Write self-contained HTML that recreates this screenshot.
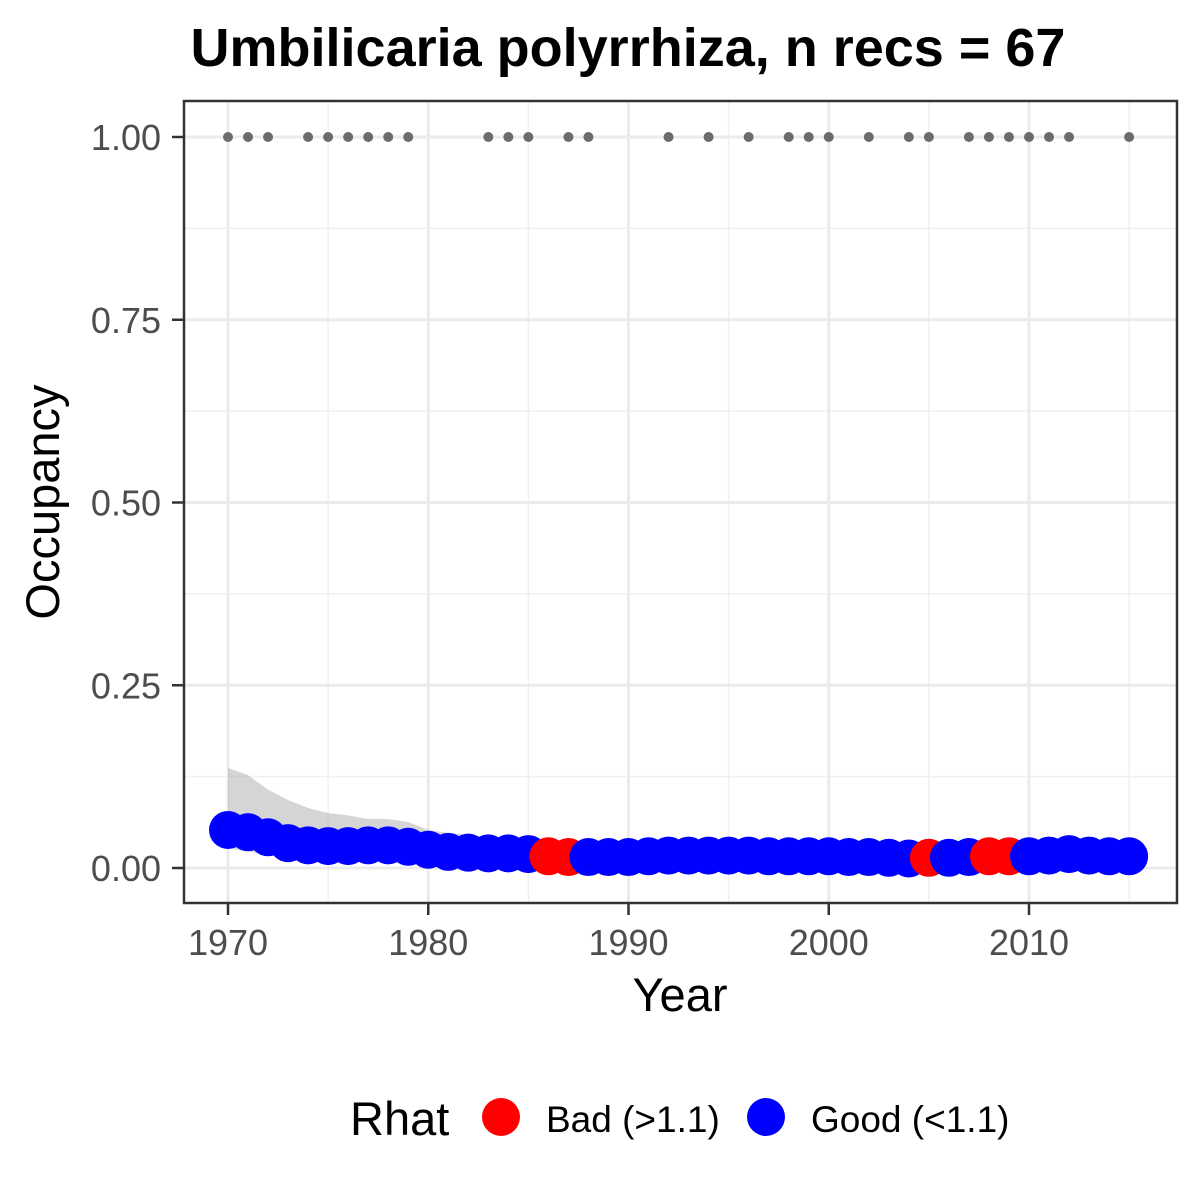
<!DOCTYPE html>
<html><head><meta charset="utf-8"><style>
html,body{margin:0;padding:0;background:#fff;}
svg{display:block;font-family:"Liberation Sans",Arial,sans-serif;}
</style></head><body>
<svg id="chart" width="1200" height="1200" viewBox="0 0 1200 1200">
<rect x="0" y="0" width="1200" height="1200" fill="#fff"/>
<text x="628" y="66" text-anchor="middle" font-size="54" font-weight="bold" fill="#000">Umbilicaria polyrrhiza, n recs = 67</text>
<g id="grid"></g>
<g id="marks"></g>
<rect x="184" y="101" width="993" height="802" fill="none" stroke="#333" stroke-width="2.5"/>
<g id="axes"></g>
<text x="680" y="1011" text-anchor="middle" font-size="47" fill="#000">Year</text>
<text transform="translate(59,502) rotate(-90)" text-anchor="middle" font-size="47" fill="#000">Occupancy</text>
<g>
<text x="350" y="1135" font-size="47" fill="#000">Rhat</text>
<circle cx="501" cy="1117" r="19" fill="#ff0000"/>
<text x="546" y="1132" font-size="37" fill="#000">Bad (&gt;1.1)</text>
<circle cx="766" cy="1117" r="19" fill="#0000ff"/>
<text x="811" y="1132" font-size="37" fill="#000">Good (&lt;1.1)</text>
</g>
</svg>
<script>
const years = [1970,1971,1972,1973,1974,1975,1976,1977,1978,1979,1980,1981,1982,1983,1984,1985,1986,1987,1988,1989,1990,1991,1992,1993,1994,1995,1996,1997,1998,1999,2000,2001,2002,2003,2004,2005,2006,2007,2008,2009,2010,2011,2012,2013,2014,2015];
const occupancy = [0.052,0.049,0.042,0.034,0.031,0.030,0.030,0.031,0.031,0.029,0.025,0.022,0.021,0.020,0.020,0.019,0.016,0.015,0.015,0.015,0.015,0.016,0.017,0.017,0.017,0.017,0.017,0.016,0.016,0.016,0.016,0.015,0.015,0.014,0.013,0.014,0.014,0.015,0.016,0.016,0.016,0.017,0.019,0.017,0.016,0.016];
const upper = [0.137,0.127,0.107,0.093,0.082,0.075,0.072,0.067,0.067,0.063,0.052,0.048,0.046,0.042,0.040,0.038,0.034,0.032,0.031,0.030,0.030,0.030,0.031,0.031,0.031,0.031,0.031,0.030,0.030,0.030,0.030,0.029,0.029,0.028,0.027,0.028,0.028,0.029,0.030,0.030,0.030,0.031,0.033,0.031,0.030,0.030];
const lower = [0.027,0.022,0.020,0.018,0.016,0.015,0.015,0.015,0.015,0.014,0.012,0.010,0.010,0.009,0.009,0.008,0.007,0.006,0.006,0.006,0.006,0.007,0.007,0.007,0.007,0.007,0.007,0.007,0.007,0.007,0.007,0.006,0.006,0.006,0.005,0.006,0.006,0.006,0.007,0.007,0.007,0.007,0.008,0.007,0.007,0.007];
const rhatBad = [0,0,0,0,0,0,0,0,0,0,0,0,0,0,0,0,1,1,0,0,0,0,0,0,0,0,0,0,0,0,0,0,0,0,0,1,0,0,1,1,0,0,0,0,0,0];
const recordYears = [1970,1971,1972,1974,1975,1976,1977,1978,1979,1983,1984,1985,1987,1988,1992,1994,1996,1998,1999,2000,2002,2004,2005,2007,2008,2009,2010,2011,2012,2015];
const xTicks = [1970,1980,1990,2000,2010];
const xMinor = [1975,1985,1995,2005,2015];
const yTicks = [0,0.25,0.5,0.75,1];
const yTickLabels = ["0.00","0.25","0.50","0.75","1.00"];
const yMinor = [0.125,0.375,0.625,0.875];

const NS = "http://www.w3.org/2000/svg";
const X = yr => 228 + (yr - 1970) * 20.025;
const Y = v => 868 - v * 731;
function mk(tag, attrs, parent) {
  const e = document.createElementNS(NS, tag);
  for (const k in attrs) e.setAttribute(k, attrs[k]);
  parent.appendChild(e);
  return e;
}
const grid = document.getElementById('grid');
const marks = document.getElementById('marks');
const axes = document.getElementById('axes');
yMinor.forEach(v => {
  const l = mk('line', {x1:184, x2:1177, y1:Y(v), y2:Y(v), stroke:'#f0f0f0', 'stroke-width':1.5}, grid);
  
  
});
xMinor.forEach(v => {
  const l = mk('line', {x1:X(v), x2:X(v), y1:101, y2:903, stroke:'#f0f0f0', 'stroke-width':1.5}, grid);
  
  
});
yTicks.forEach(v => {
  const l = mk('line', {x1:184, x2:1177, y1:Y(v), y2:Y(v), stroke:'#ebebeb', 'stroke-width':3}, grid);
  
  
});
xTicks.forEach(v => {
  const l = mk('line', {x1:X(v), x2:X(v), y1:101, y2:903, stroke:'#ebebeb', 'stroke-width':3}, grid);
  
  
});
let d = '';
years.forEach((yr, i) => { d += (i ? 'L' : 'M') + X(yr) + ',' + Y(upper[i]); });
for (let i = years.length - 1; i >= 0; i--) d += 'L' + X(years[i]) + ',' + Y(lower[i]);
d += 'Z';
const rib = mk('path', {d: d, fill:'#b3b3b3', 'fill-opacity':0.55}, marks);


recordYears.forEach(yr => {
  const c = mk('circle', {cx:X(yr), cy:Y(1), r:5, fill:'#6b6b6b'}, marks);
  
  
});
years.forEach((yr, i) => {
  const c = mk('circle', {cx:X(yr), cy:Y(occupancy[i]), r:19, fill: rhatBad[i] ? '#ff0000' : '#0000ff'}, marks);
  
  
});
yTicks.forEach((v, i) => {
  const t = mk('line', {x1:172, x2:184, y1:Y(v), y2:Y(v), stroke:'#333', 'stroke-width':2.5}, axes);
  
  
  const lb = mk('text', {x:161, y:Y(v) + 13, 'text-anchor':'end', 'font-size':36, fill:'#4d4d4d'}, axes);
  lb.textContent = yTickLabels[i];
  
  
});
xTicks.forEach(v => {
  const t = mk('line', {x1:X(v), x2:X(v), y1:903, y2:915, stroke:'#333', 'stroke-width':2.5}, axes);
  
  
  const lb = mk('text', {x:X(v), y:955, 'text-anchor':'middle', 'font-size':36, fill:'#4d4d4d'}, axes);
  lb.textContent = String(v);
  
  
});
</script>
</body></html>
